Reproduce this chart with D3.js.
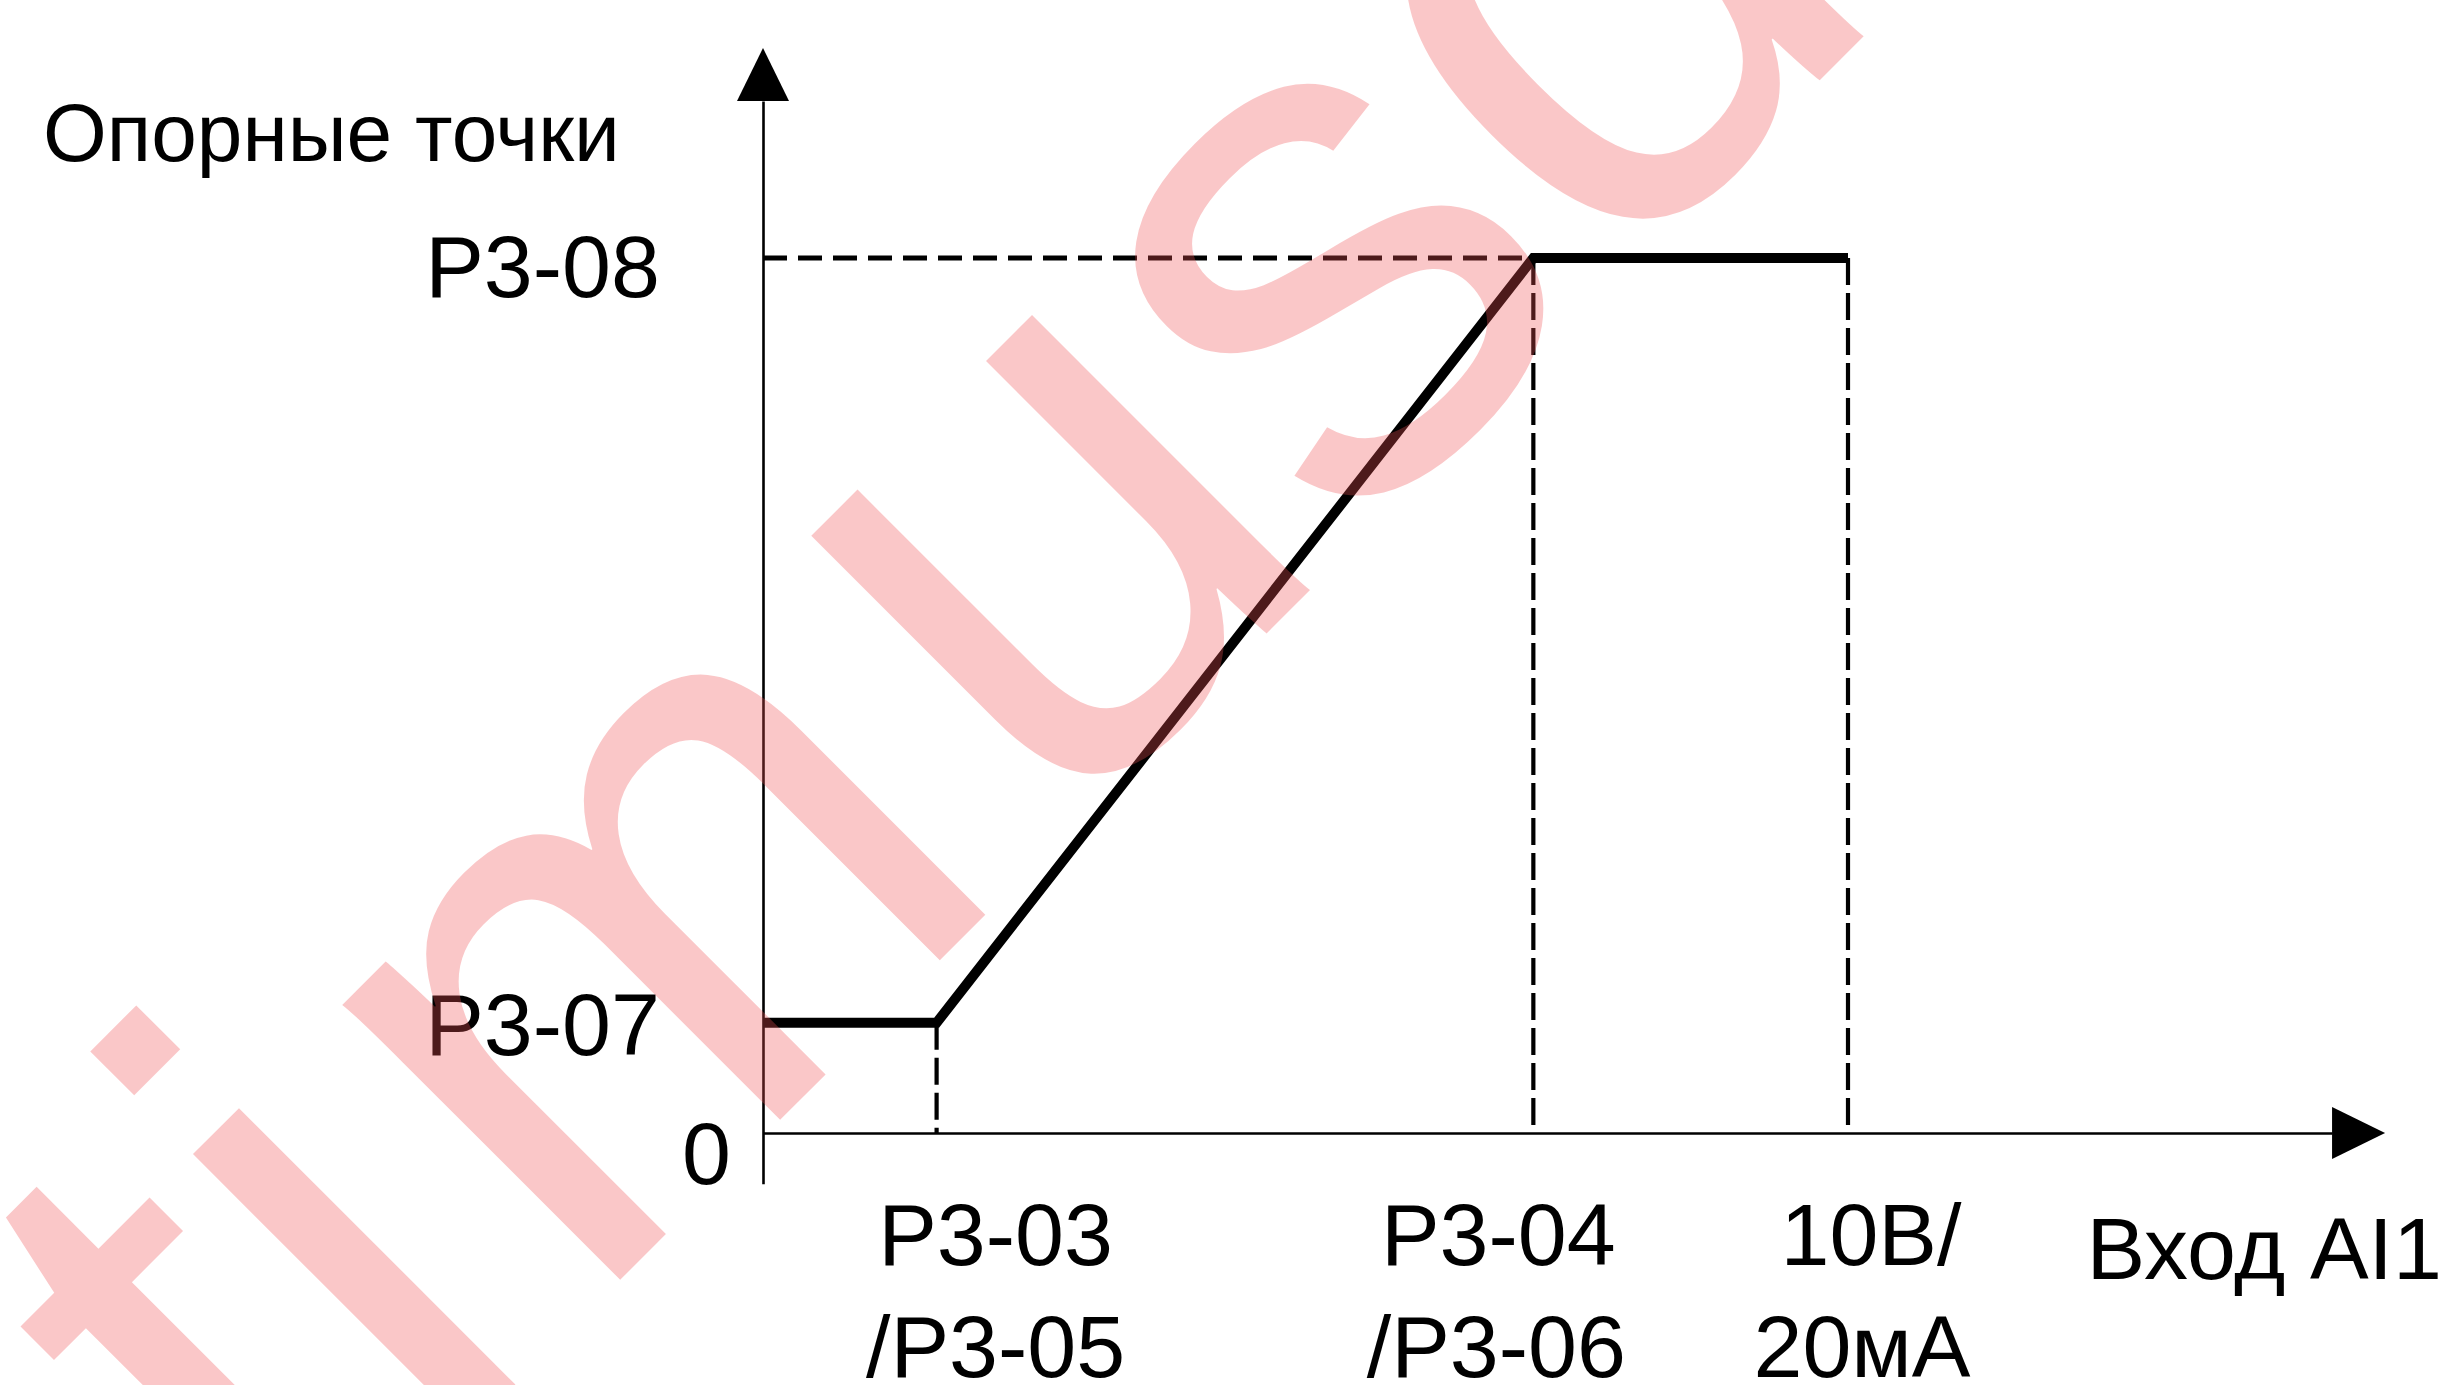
<!DOCTYPE html>
<html>
<head>
<meta charset="utf-8">
<script src="https://cdn.jsdelivr.net/npm/d3@7"></script>
<style>
  html, body { margin: 0; padding: 0; background: #fff; }
  svg { display: block; }
  text { font-family: "Liberation Sans", Arial, sans-serif; fill: #000; }
</style>
</head>
<body>
<svg id="chart" width="2448" height="1385"></svg>
<script>
// ---------------- data ----------------
const xTicks = [1.6, 7.1, 10];
const xTickLabels = [["P3-03", "/P3-05"], ["P3-04", "/P3-06"], ["10В/", "20мА"]];
const yTicks = [0, 12.6, 100];
const yTickLabels = ["0", "P3-07", "P3-08"];
const curveX = [0, 1.6, 7.1, 10];
const curveY = [12.6, 12.6, 100, 100];
const yAxisTitle = "Опорные точки";
const xAxisTitle = "Вход AI1";
const watermarkText = "optimusdrive";

// ---------------- layout ----------------
const svg = d3.select("#chart");
const x = d3.scaleLinear().domain([0, 10]).range([763, 1848]);
const y = d3.scaleLinear().domain([0, 100]).range([1133, 258]);
const xAxisEnd = 14.95, yAxisTop = 124, yAxisBottom = -5.8;
const arrowLen = 53, arrowHalf = 26;

const g = svg.append("g");

// x axis line (domain only)
const xAxisScale = x.copy().domain([0, xAxisEnd - arrowLen / (x(1) - x(0))])
  .range([x(0), x(xAxisEnd) - arrowLen]);
g.append("g")
  .attr("transform", `translate(0,${y(0)})`)
  .call(d3.axisBottom(xAxisScale).tickValues([]).tickSizeOuter(0))
  .call(s => s.select(".domain").attr("stroke", "#000").attr("stroke-width", 2.6));

// y axis line
const yAxisScale = y.copy().domain([yAxisBottom, yAxisTop])
  .range([y(yAxisBottom), y(yAxisTop) + arrowLen]);
g.append("g")
  .attr("transform", `translate(${x(0)},0)`)
  .call(d3.axisLeft(yAxisScale).tickValues([]).tickSizeOuter(0))
  .call(s => s.select(".domain").attr("stroke", "#000").attr("stroke-width", 2.6));

// arrows
const xt = x(xAxisEnd), yt = y(yAxisTop);
g.append("path")
  .attr("d", `M${xt},${y(0)}L${xt - arrowLen},${y(0) - arrowHalf}L${xt - arrowLen},${y(0) + arrowHalf}Z`)
  .attr("fill", "#000");
g.append("path")
  .attr("d", `M${x(0)},${yt}L${x(0) - arrowHalf},${yt + arrowLen}L${x(0) + arrowHalf},${yt + arrowLen}Z`)
  .attr("fill", "#000");

// dashed guides
const guides = [
  [curveX[1], curveY[1], curveX[1], 0],
  [curveX[2], curveY[2], curveX[2], 0],
  [curveX[3], curveY[3], curveX[3], 0],
  [0, curveY[2], curveX[2], curveY[2]]
];
g.selectAll("line.guide").data(guides).join("line")
  .attr("class", "guide")
  .attr("x1", d => x(d[0])).attr("y1", d => y(d[1]))
  .attr("x2", d => x(d[2])).attr("y2", d => y(d[3]))
  .attr("stroke", "#000")
  .attr("stroke-width", (d, i) => i === 3 ? 5 : 4.2)
  .attr("stroke-dasharray", (d, i) => i === 3 ? "24,11" : "27,8");

// curve
const pts = curveX.map((v, i) => [v, curveY[i]]);
g.append("path")
  .attr("d", d3.line().x(d => x(d[0])).y(d => y(d[1]))(pts))
  .attr("fill", "none").attr("stroke", "#000")
  .attr("stroke-width", 10).attr("stroke-linejoin", "miter");

// y tick labels
const fs = 88;
const yLabelRight = [731, 660, 660];
const yLabelDy = [51, 32, 39];
g.selectAll("text.ylab").data(yTicks).join("text")
  .attr("class", "ylab")
  .attr("x", (d, i) => yLabelRight[i])
  .attr("y", (d, i) => y(d) + yLabelDy[i])
  .attr("text-anchor", "end")
  .attr("font-size", fs)
  .text((d, i) => yTickLabels[i]);

// x tick labels
const xLabelShift = [[59, 59], [-35, -37], [23, 14]];
xTicks.forEach((v, i) => {
  xTickLabels[i].forEach((t, j) => {
    g.append("text")
      .attr("x", x(v) + xLabelShift[i][j])
      .attr("y", j === 0 ? 1265 : 1377)
      .attr("text-anchor", "middle")
      .attr("font-size", fs)
      .text(t);
  });
});

// axis titles
g.append("text").attr("x", 43).attr("y", 161).attr("font-size", 82).text(yAxisTitle);
g.append("text").attr("x", 2442).attr("y", 1279).attr("text-anchor", "end")
  .attr("font-size", fs).text(xAxisTitle);

// watermark
svg.append("text")
  .attr("transform", "translate(-293,2193) rotate(-45)")
  .attr("font-size", 740)
  .attr("dx", "0 0 0 0 47 48")
  .style("fill", "rgb(240,80,85)")
  .style("fill-opacity", 0.32)
  .text(watermarkText);
</script>
</body>
</html>
